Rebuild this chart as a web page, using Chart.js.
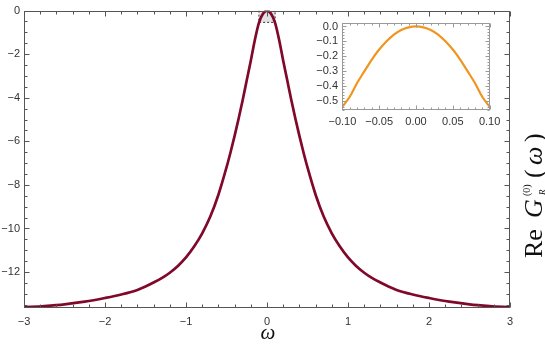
<!DOCTYPE html>
<html lang="en">
<head>
<meta charset="UTF-8" />
<title>Re G_R(0)</title>
<script src="https://cdn.jsdelivr.net/npm/chart.js"></script>
<style>
  body { margin: 0; background: #fff; }
  #wrap { position: relative; width: 545px; height: 345px; }
  #main { position: absolute; left: 0; top: 0; }
  #inset { position: absolute; left: 295px; top: 12px; }
</style>
</head>
<body>
<div id="wrap">
  <canvas id="main" width="545" height="345"></canvas>
  <canvas id="inset" width="215" height="118"></canvas>
</div>
<script>
// main curve
const omega = [-3, -2.75, -2.5, -2.25, -2, -1.8, -1.6, -1.5, -1.4, -1.3, -1.2, -1.1, -1, -0.9, -0.8, -0.7, -0.6, -0.5, -0.45, -0.4, -0.35, -0.3, -0.25, -0.2, -0.15, -0.1, -0.05,
  0, 0.05, 0.1, 0.15, 0.2, 0.25, 0.3, 0.35, 0.4, 0.45, 0.5, 0.6, 0.7, 0.8, 0.9, 1, 1.1, 1.2, 1.3, 1.4, 1.5, 1.6, 1.8, 2, 2.25, 2.5, 2.75, 3];
const reG = [-13.62, -13.56, -13.48, -13.36, -13.19, -13.03, -12.82, -12.66, -12.48, -12.28, -12.03, -11.72, -11.33, -10.83, -10.22, -9.45, -8.45, -7.2, -6.5, -5.75, -4.95, -4.1, -3.2, -2.3, -1.35, -0.56, -0.15,
  0, -0.15, -0.56, -1.35, -2.3, -3.2, -4.1, -4.95, -5.75, -6.5, -7.2, -8.45, -9.45, -10.22, -10.83, -11.33, -11.72, -12.03, -12.28, -12.48, -12.66, -12.82, -13.03, -13.19, -13.36, -13.48, -13.56, -13.62];

// inset, zoom on the peak
const insetOmega = [-0.1, -0.09, -0.08, -0.07, -0.06, -0.05, -0.04, -0.03, -0.02, -0.01, 0, 0.01, 0.02, 0.03, 0.04, 0.05, 0.06, 0.07, 0.08, 0.09, 0.1];
const insetReG = [-0.54, -0.472, -0.38, -0.3, -0.222, -0.155, -0.099, -0.054, -0.023, -0.006, 0, -0.006, -0.023, -0.054, -0.099, -0.155, -0.222, -0.3, -0.38, -0.472, -0.54];

const xTicks = [-3, -2, -1, 0, 1, 2, 3];
const yTicks = [0, -2, -4, -6, -8, -10, -12];
const insetXTicks = [-0.1, -0.05, 0, 0.05, 0.1];
const insetYTicks = [0, -0.1, -0.2, -0.3, -0.4, -0.5];

// shaded box marking the inset region
const boxX = [-0.1, -0.1, 0.1, 0.1];
const boxY = [0, -0.54, -0.54, 0];

const MINUS = '\u2212';
const fmt = (v, d) => (v < 0 ? MINUS : '') + Math.abs(v).toFixed(d);
const tickFont = { family: 'Liberation Sans', size: 11 };

// frame with inward ticks on all four sides
const framePlugin = {
  id: 'frame',
  afterDraw(chart, args, o) {
    const { ctx, chartArea: a, scales: { x, y } } = chart;
    const L = Math.round(a.left) + 0.5, R = Math.round(a.right) - 0.5;
    const T = Math.round(a.top) + 0.5, B = Math.round(a.bottom) - 0.5;
    ctx.save();
    ctx.strokeStyle = o.color;
    ctx.lineWidth = 1;
    ctx.beginPath();
    const isMajor = (v, m) => Math.abs(v / m - Math.round(v / m)) < 1e-6;
    for (let i = Math.ceil(x.min / o.xMinor - 1e-6); i * o.xMinor <= x.max + 1e-9; i++) {
      const v = i * o.xMinor;
      const px = Math.round(x.getPixelForValue(v)) + 0.5;
      const len = isMajor(v, o.xMajor) ? o.majorLen : o.minorLen;
      ctx.moveTo(px, B); ctx.lineTo(px, B - len);
      ctx.moveTo(px, T); ctx.lineTo(px, T + len);
    }
    for (let i = Math.ceil(y.min / o.yMinor - 1e-6); i * o.yMinor <= y.max + 1e-9; i++) {
      const v = i * o.yMinor;
      const py = Math.round(y.getPixelForValue(v)) + 0.5;
      const len = isMajor(v, o.yMajor) ? o.majorLen : o.minorLen;
      ctx.moveTo(L, py); ctx.lineTo(L + len, py);
      ctx.moveTo(R, py); ctx.lineTo(R - len, py);
    }
    ctx.stroke();
    ctx.strokeRect(L, T, R - L, B - T);
    ctx.restore();
  }
};

// axis titles
const titlePlugin = {
  id: 'titles',
  afterDraw(chart) {
    const { ctx } = chart;
    ctx.save();
    ctx.fillStyle = '#111';
    ctx.textBaseline = 'alphabetic';
    ctx.textAlign = 'center';
    ctx.font = 'italic 21px "Liberation Serif"';
    ctx.fillText('\u03c9', 268, 339);

    // vertical label, read bottom to top; offsets along the text line
    const big = '26px "Liberation Serif"';
    const bigI = 'italic 26px "Liberation Serif"';
    ctx.translate(542, 258);
    ctx.rotate(-Math.PI / 2);
    ctx.textAlign = 'left';
    ctx.font = big; ctx.fillText('Re', 0, 0);
    ctx.font = bigI; ctx.fillText('G', 40, 0);
    ctx.font = '10px "Liberation Serif"'; ctx.fillText('(0)', 62, -12);
    ctx.font = 'italic 9px "Liberation Serif"'; ctx.fillText('R', 63, 3);
    ctx.font = big; ctx.fillText('(', 80, 0);
    ctx.font = bigI; ctx.fillText('\u03c9', 93, 0);
    ctx.font = big; ctx.fillText(')', 116, 0);
    ctx.restore();
  }
};

new Chart(document.getElementById('main'), {
  type: 'line',
  data: {
    datasets: [
      {
        data: omega.map((w, i) => ({ x: w, y: reG[i] })),
        borderColor: '#80092b',
        borderWidth: 2.7,
        pointRadius: 0,
        cubicInterpolationMode: 'monotone',
        fill: false
      },
      {
        data: boxX.map((w, i) => ({ x: w, y: boxY[i] })),
        borderColor: '#333',
        borderWidth: 1,
        borderDash: [2, 2],
        backgroundColor: '#e2e2e2',
        pointRadius: 0,
        fill: 'end'
      }
    ]
  },
  options: {
    responsive: false,
    animation: false,
    layout: { padding: { top: 6, right: 35, left: 0, bottom: 0 } },
    plugins: {
      legend: { display: false },
      tooltip: { enabled: false },
      frame: { color: '#555', xMajor: 1, xMinor: 0.2, yMajor: 2, yMinor: 0.5, majorLen: 5, minorLen: 3 }
    },
    scales: {
      x: {
        type: 'linear', min: -3, max: 3,
        grid: { display: false, drawTicks: false }, border: { display: false },
        afterBuildTicks: s => { s.ticks = xTicks.map(v => ({ value: v })); },
        afterFit: s => { s.height = 37; },
        ticks: { font: tickFont, color: '#333', padding: 7, maxRotation: 0, autoSkip: false, callback: v => fmt(v, 0) }
      },
      y: {
        min: -13.65, max: 0,
        grid: { display: false, drawTicks: false }, border: { display: false },
        afterBuildTicks: s => { s.ticks = yTicks.map(v => ({ value: v })); },
        afterFit: s => { s.width = 24; },
        ticks: { font: tickFont, color: '#333', padding: 4, autoSkip: false, callback: v => fmt(v, 0) }
      }
    }
  },
  plugins: [framePlugin, titlePlugin]
});

new Chart(document.getElementById('inset'), {
  type: 'line',
  data: {
    datasets: [{
      data: insetOmega.map((w, i) => ({ x: w, y: insetReG[i] })),
      borderColor: '#f0951f',
      borderWidth: 2.2,
      pointRadius: 0,
      cubicInterpolationMode: 'monotone',
      fill: false
    }]
  },
  options: {
    responsive: false,
    animation: false,
    layout: { padding: { top: 8, right: 20, left: 0, bottom: 0 } },
    plugins: {
      legend: { display: false },
      tooltip: { enabled: false },
      frame: { color: '#999', xMajor: 0.05, xMinor: 0.01, yMajor: 0.1, yMinor: 0.02, majorLen: 4, minorLen: 2 }
    },
    scales: {
      x: {
        type: 'linear', min: -0.1005, max: 0.1005,
        grid: { display: false, drawTicks: false }, border: { display: false },
        afterBuildTicks: s => { s.ticks = insetXTicks.map(v => ({ value: v })); },
        afterFit: s => { s.height = 20; },
        ticks: { font: tickFont, color: '#333', padding: 5, maxRotation: 0, autoSkip: false, callback: v => fmt(v, 2) }
      },
      y: {
        min: -0.561, max: 0.026,
        grid: { display: false, drawTicks: false }, border: { display: false },
        afterBuildTicks: s => { s.ticks = insetYTicks.map(v => ({ value: v })); },
        afterFit: s => { s.width = 47; },
        ticks: { font: tickFont, color: '#333', padding: 4, autoSkip: false, callback: v => fmt(v, 1) }
      }
    }
  },
  plugins: [framePlugin]
});
</script>
</body>
</html>
